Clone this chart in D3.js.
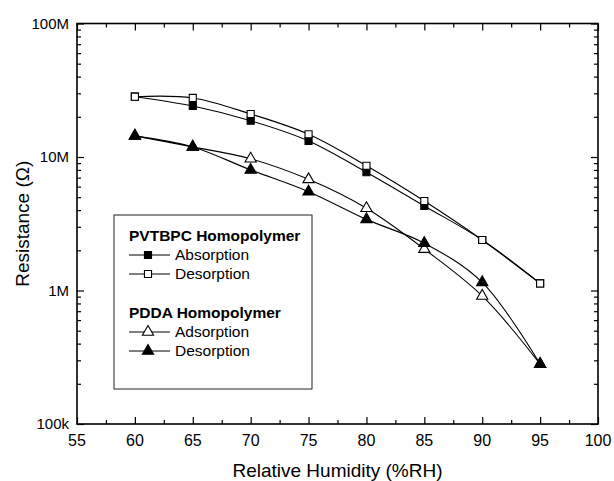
<!DOCTYPE html>
<html><head><meta charset="utf-8">
<script src="https://cdn.jsdelivr.net/npm/d3@7"></script>
<style>html,body{margin:0;padding:0;background:#fff;}svg{display:block;font-family:"Liberation Sans",Arial,sans-serif;}</style>
</head><body>
<script>
const rh = [60, 65, 70, 75, 80, 85, 90, 95];
const pvtbpcAbsorption = [28.3e6, 24.1e6, 18.7e6, 13.2e6, 7.7e6, 4.3e6, 2.39e6, 1.13e6];
const pvtbpcDesorption = [28.3e6, 27.7e6, 21.0e6, 14.8e6, 8.6e6, 4.68e6, 2.39e6, 1.13e6];
const pddaAdsorption = [14.4e6, 11.9e6, 9.7e6, 6.8e6, 4.13e6, 2.04e6, 0.91e6, 0.281e6];
const pddaDesorption = [14.4e6, 11.9e6, 8.0e6, 5.5e6, 3.41e6, 2.26e6, 1.15e6, 0.281e6];
const xTicks = [55, 60, 65, 70, 75, 80, 85, 90, 95, 100];
const yTicks = [1e5, 1e6, 1e7, 1e8];
const yTickLabels = ["100k", "1M", "10M", "100M"];

const W = 614, H = 481;
const L = 77, R = 598, T = 23.5, B = 424;
const svg = d3.select("body").append("svg").attr("width", W).attr("height", H);
const x = d3.scaleLinear().domain([55, 100]).range([L, R]);
const y = d3.scaleLog().domain([1e5, 1e8]).range([B, T]);

const xMinor = d3.range(57.5, 100, 5);
const yMinor = [];
[1e5, 1e6, 1e7].forEach(d => { for (let k = 2; k <= 9; k++) yMinor.push(d * k); });

function tickAxis(axisGen, transform, tickVals, size) {
  const a = svg.append("g").attr("transform", transform)
    .call(axisGen.tickValues(tickVals).tickSize(size).tickFormat(""));
  a.select(".domain").remove();
  a.selectAll("line").attr("stroke", "#000").attr("stroke-width", 1.2);
}
tickAxis(d3.axisBottom(x), `translate(0,${B})`, xTicks, -7);
tickAxis(d3.axisBottom(x), `translate(0,${B})`, xMinor, -4);
tickAxis(d3.axisTop(x), `translate(0,${T})`, xTicks, -7);
tickAxis(d3.axisTop(x), `translate(0,${T})`, xMinor, -4);
tickAxis(d3.axisLeft(y), `translate(${L},0)`, yTicks, -7);
tickAxis(d3.axisLeft(y), `translate(${L},0)`, yMinor, -4);
tickAxis(d3.axisRight(y), `translate(${R},0)`, yTicks, -7);
tickAxis(d3.axisRight(y), `translate(${R},0)`, yMinor, -4);

svg.append("rect").attr("x", L).attr("y", T).attr("width", R - L).attr("height", B - T)
  .attr("fill", "none").attr("stroke", "#000").attr("stroke-width", 1.6);

svg.append("g").selectAll("text").data(xTicks).join("text")
  .attr("x", d => x(d)).attr("y", 446).attr("text-anchor", "middle")
  .attr("font-size", 16).attr("fill", "#000").text(d => d);
svg.append("g").selectAll("text").data(yTicks).join("text")
  .attr("x", 69).attr("y", d => y(d)).attr("dy", "0.35em").attr("text-anchor", "end")
  .attr("font-size", 15).attr("fill", "#000").text((d, i) => yTickLabels[i]);

svg.append("text").attr("x", (L + R) / 2).attr("y", 477).attr("text-anchor", "middle")
  .attr("font-size", 19).attr("fill", "#000").text("Relative Humidity (%RH)");
svg.append("text").attr("transform", `translate(29,${(T + B) / 2}) rotate(-90)`)
  .attr("text-anchor", "middle").attr("font-size", 19).attr("fill", "#000").text("Resistance (Ω)");

const line = d3.line().curve(d3.curveCatmullRom.alpha(0.5)).x(d => x(d[0])).y(d => y(d[1]));
const series = [
  { vals: pvtbpcAbsorption, shape: "square", fill: "#000" },
  { vals: pvtbpcDesorption, shape: "square", fill: "#fff" },
  { vals: pddaAdsorption, shape: "triangle", fill: "#fff" },
  { vals: pddaDesorption, shape: "triangle", fill: "#000" }
];
const sym = { square: d3.symbol().type(d3.symbolSquare).size(50), triangle: d3.symbol().type(d3.symbolTriangle).size(55) };
series.forEach(s => {
  s.pts = rh.map((r, i) => [r, s.vals[i]]);
  svg.append("path").attr("d", line(s.pts)).attr("fill", "none").attr("stroke", "#000").attr("stroke-width", 1.1);
});
series.forEach(s => {
  svg.append("g").selectAll("path").data(s.pts).join("path")
    .attr("transform", d => `translate(${x(d[0])},${y(d[1])})`)
    .attr("d", sym[s.shape]()).attr("fill", s.fill).attr("stroke", "#000").attr("stroke-width", 1.1);
});

const lg = svg.append("g");
lg.append("rect").attr("x", 114).attr("y", 215).attr("width", 198).attr("height", 174)
  .attr("fill", "#fff").attr("stroke", "#222").attr("stroke-width", 1);
const legendRows = [
  { type: "head", text: "PVTBPC Homopolymer", y: 241 },
  { type: "item", text: "Absorption", y: 260, s: series[0] },
  { type: "item", text: "Desorption", y: 279, s: series[1] },
  { type: "head", text: "PDDA Homopolymer", y: 318 },
  { type: "item", text: "Adsorption", y: 337, s: series[2] },
  { type: "item", text: "Desorption", y: 356, s: series[3] }
];
legendRows.forEach(r => {
  if (r.type === "head") {
    lg.append("text").attr("x", 129).attr("y", r.y).attr("font-size", 15.5).attr("font-weight", "bold")
      .attr("fill", "#000").text(r.text);
  } else {
    const cy = r.y - 5;
    lg.append("line").attr("x1", 129).attr("x2", 170).attr("y1", cy).attr("y2", cy)
      .attr("stroke", "#000").attr("stroke-width", 1);
    lg.append("path").attr("transform", `translate(148,${cy})`).attr("d", sym[r.s.shape]())
      .attr("fill", r.s.fill).attr("stroke", "#000").attr("stroke-width", 1.1);
    lg.append("text").attr("x", 175).attr("y", r.y).attr("font-size", 15.5).attr("fill", "#000").text(r.text);
  }
});
</script>
</body></html>
